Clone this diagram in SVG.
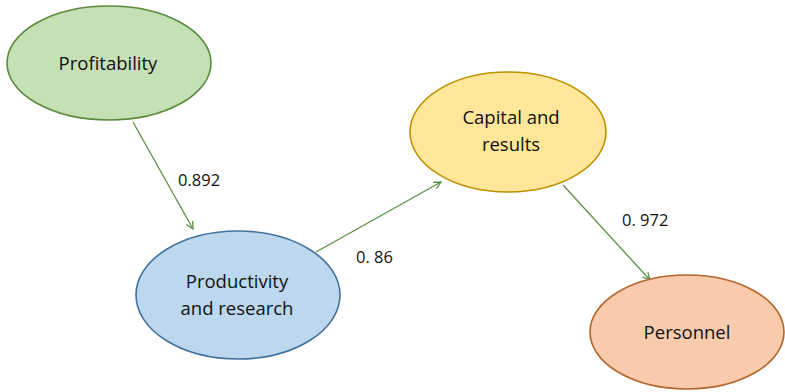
<svg xmlns="http://www.w3.org/2000/svg" width="785" height="392" viewBox="0 0 785 392">
  <defs>
    <marker id="arrow" viewBox="0 0 10 10" refX="9" refY="5" markerWidth="9" markerHeight="9" markerUnits="userSpaceOnUse" orient="auto">
      <path d="M1,1 L9,5 L1,9" fill="none" stroke="#5E8E43" stroke-width="1.4"/>
    </marker>
  </defs>
  <style>
    .node { stroke-width: 1.6; }
    .label { font-family: "Open Sans", "Noto Sans", sans-serif; font-size: 18.5px; fill: #111; text-anchor: middle; }
    .weight { font-family: "Open Sans", "Noto Sans", sans-serif; font-size: 16.5px; fill: #111; }
    .edge { stroke: #5E8E43; stroke-width: 1.3; fill: none; marker-end: url(#arrow); }
  </style>
  <rect width="785" height="392" fill="#ffffff"/>

  <g id="connectors">
    <line class="edge" x1="133" y1="122" x2="193" y2="229"/>
    <line class="edge" x1="316" y1="252" x2="441" y2="182"/>
    <line class="edge" x1="563" y1="185" x2="650" y2="280"/>
    <text class="weight" x="178" y="186">0.892</text>
    <text class="weight" x="356" y="263">0. 86</text>
    <text class="weight" x="622" y="226">0. 972</text>
  </g>

  <g id="profitability">
    <ellipse class="node" cx="109" cy="63" rx="102" ry="57" fill="#C5E0B4" stroke="#5B8A3C"/>
    <text class="label" x="108" y="70">Profitability</text>
  </g>

  <g id="productivity">
    <ellipse class="node" cx="238" cy="295" rx="102" ry="64" fill="#BDD7EE" stroke="#41719C"/>
    <text class="label" x="237" y="288">Productivity</text>
    <text class="label" x="237" y="315">and research</text>
  </g>

  <g id="capital">
    <ellipse class="node" cx="508" cy="132" rx="98" ry="60" fill="#FFE699" stroke="#BF9000"/>
    <text class="label" x="511" y="124">Capital and</text>
    <text class="label" x="511" y="151">results</text>
  </g>

  <g id="personnel">
    <ellipse class="node" cx="687" cy="332" rx="97" ry="57" fill="#F8CBAD" stroke="#B5652B"/>
    <text class="label" x="687" y="339">Personnel</text>
  </g>
</svg>
